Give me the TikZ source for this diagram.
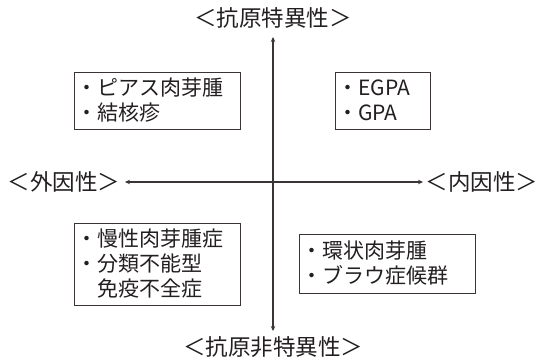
\documentclass[tikz,border=0pt]{standalone}
\usepackage{fontspec}
\setmainfont{Noto Sans CJK JP}
\usetikzlibrary{arrows.meta}
\definecolor{ink}{HTML}{231F20}
\definecolor{linec}{HTML}{3A3436}
\tikzset{
  lbl/.style={font=\fontsize{21}{25}\selectfont, text=ink, inner sep=0pt},
  axlbl/.style={font=\fontsize{22.5}{25}\selectfont, text=ink, inner sep=0pt},
  qbox/.style={draw=linec, line width=1pt, font=\fontsize{21}{25}\selectfont, text=ink,
    align=left, inner sep=0pt, anchor=north west},
  axis/.style={draw=linec, line width=1.1pt, {Stealth[length=5pt,width=4.5pt]}-{Stealth[length=5pt,width=4.5pt]}}
}
\begin{document}
\begin{tikzpicture}[x=1pt,y=-1pt]
\useasboundingbox (0,0) rectangle (545,363);
\node[axlbl] (top) at (273,18) {＜抗原特異性＞};
\node[axlbl] (bot) at (273,347) {＜抗原非特異性＞};
\node[axlbl] (left) at (64,182) {＜外因性＞};
\node[axlbl] (right) at (482,182) {＜内因性＞};
\coordinate (vt) at (273,37);
\coordinate (vb) at (273,331);
\coordinate (hl) at (125,182);
\coordinate (hr) at (423,182);
\draw[axis] (vt) -- (vb);
\draw[axis] (hl) -- (hr);
% boxes
\node[qbox, minimum width=166pt, minimum height=57pt] (b1) at (74,72) {};
\node[lbl, anchor=west, align=left] (t1) at (76,100.5) {・ピアス肉芽腫\\・結核疹};
\node[qbox, minimum width=95pt, minimum height=57pt] (b2) at (335,72) {};
\node[lbl, anchor=west, align=left] (t2) at (337,100.5) {・EGPA\\・GPA};
\node[qbox, minimum width=166pt, minimum height=82pt] (b3) at (74,223) {};
\node[lbl, anchor=west, align=left] (t3) at (76,264) {・慢性肉芽腫症\\・分類不能型\\\phantom{・}免疫不全症};
\node[qbox, minimum width=176pt, minimum height=59pt] (b4) at (299,234) {};
\node[lbl, anchor=west, align=left] (t4) at (301,263.5) {・環状肉芽腫\\・ブラウ症候群};
\end{tikzpicture}
\end{document}
